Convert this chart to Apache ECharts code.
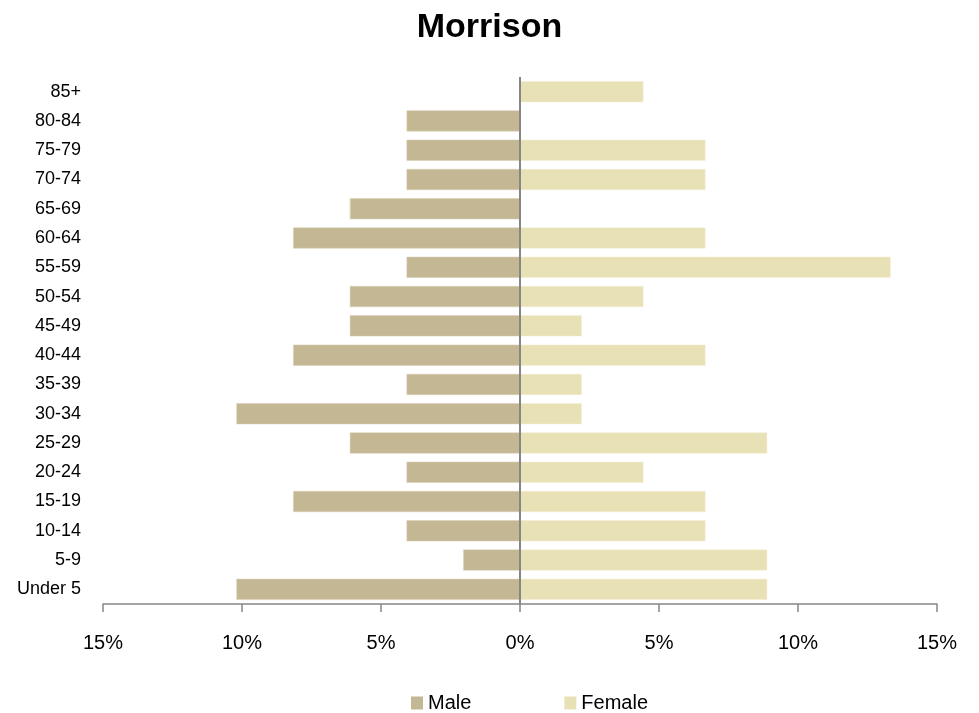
<html>
<head>
<meta charset="UTF-8">
<script src="https://cdn.jsdelivr.net/npm/echarts@6/dist/echarts.min.js"></script>
<style type="text/css">
html,body{margin:0;padding:0;background:#fff;}
#chart{width:979px;height:713px;}
</style>
</head>
<body>
<div id="chart"></div>
<script type="text/javascript">
// age groups, bottom to top
var ageGroups=["Under 5","5-9","10-14","15-19","20-24","25-29","30-34","35-39","40-44","45-49","50-54","55-59","60-64","65-69","70-74","75-79","80-84","85+"];
// percent of population (male drawn to the left)
var maleVals=[10.2,2.04,4.08,8.16,4.08,6.12,10.2,4.08,8.16,6.12,6.12,4.08,8.16,6.12,4.08,4.08,4.08,0];
var femaleVals=[8.89,8.89,6.67,6.67,4.44,8.89,2.22,2.22,6.67,2.22,4.44,13.33,6.67,0,6.67,6.67,0,4.44];
var xTicks=[-15,-10,-5,0,5,10,15];

var fontName="Liberation Sans";
var maleNeg=maleVals.map(function(v){return -v;});

var myChart=echarts.init(document.getElementById("chart"));
var option={
	animation:false,
	textStyle:{fontFamily:fontName},
	title:{
		text:"Morrison",left:"center",top:6,
		textStyle:{fontFamily:fontName,fontSize:34,fontWeight:"bold",color:"#000"}
	},
	legend:{
		left:406,top:688,itemWidth:12,itemHeight:13,itemGap:93,icon:"rect",
		itemStyle:{borderWidth:0},
		textStyle:{fontFamily:fontName,fontSize:20,color:"#000"},
		data:["Male","Female"]
	},
	grid:{left:103,right:42,top:77,height:527},
	xAxis:{
		type:"value",min:xTicks[0],max:xTicks[xTicks.length-1],interval:5,
		axisLine:{show:true,lineStyle:{color:"#868686",width:1.5}},
		axisTick:{show:true,inside:false,length:8,lineStyle:{color:"#868686",width:1.5}},
		splitLine:{show:false},
		axisLabel:{
			margin:29,fontSize:20,color:"#000",fontFamily:fontName,
			formatter:function(v){return Math.abs(v)+"%";}
		}
	},
	yAxis:{
		type:"category",data:ageGroups,
		axisLine:{show:false},axisTick:{show:false},
		axisLabel:{fontSize:18,color:"#000",fontFamily:fontName,margin:22}
	},
	series:[
		{
			name:"Male",type:"bar",stack:"pop",data:maleNeg,barWidth:21,
			itemStyle:{color:"#C4B794",borderColor:"#D8CEB2",borderWidth:0.5},
			markLine:{
				silent:true,symbol:"none",label:{show:false},
				lineStyle:{color:"#868686",type:"solid",width:2},
				data:[{xAxis:0}]
			}
		},
		{
			name:"Female",type:"bar",stack:"pop",data:femaleVals,barWidth:21,
			itemStyle:{color:"#E8E1B6",borderColor:"#F2EDD3",borderWidth:0.5}
		}
	]
};
myChart.setOption(option);
</script>
</body>
</html>
